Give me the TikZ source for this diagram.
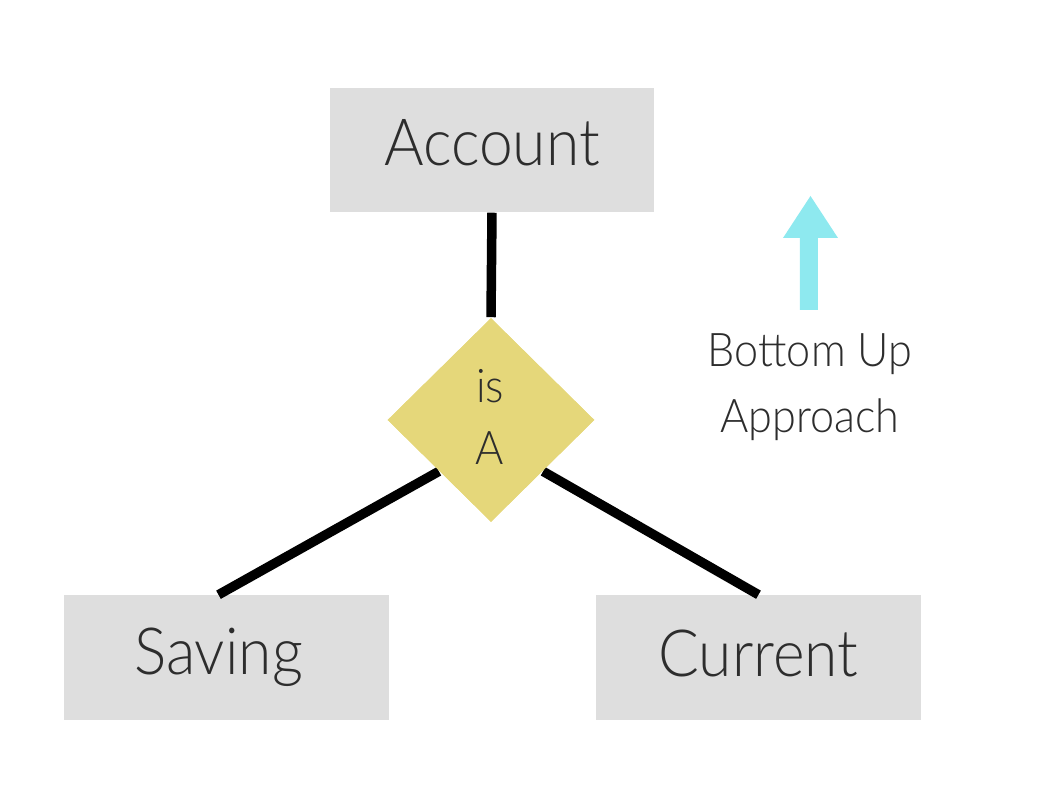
\documentclass[tikz,border=0pt]{standalone}
\usepackage{fontspec}
\setmainfont{Lato}[UprightFont={* Light}, FakeStretch=0.93]
\usetikzlibrary{shapes.geometric}
\definecolor{boxgray}{RGB}{222,222,222}
\definecolor{rhomb}{RGB}{229,215,122}
\definecolor{arrowcyan}{RGB}{142,233,239}
\definecolor{txt}{RGB}{45,45,45}
\tikzset{
  entity/.style={fill=boxgray, minimum width=3.24cm, minimum height=1.24cm, inner sep=0pt, text=txt, font=\fontsize{18.5}{20}\selectfont},
  relation/.style={diamond, fill=rhomb, minimum width=2.07cm, minimum height=2.04cm, inner sep=0pt},
  link/.style={line width=2.7pt, black},
  smalltxt/.style={text=txt, inner sep=0pt, font=\fontsize{13.2}{15}\selectfont},
}
\begin{document}
\begin{tikzpicture}[x=0.01cm, y=-0.01cm]
\useasboundingbox (0,0) rectangle (1044,786);
\node[entity] (account) at (492,150) {\raisebox{4.5pt}{Account}};
\node[entity] (saving) at (226.5,657.5) {\hspace*{-0.16cm}Saving};
\node[entity] (current) at (758.5,657.5) {\raisebox{2.5pt}{Current}};
\node[relation] (isa) at (491,420) {};
\draw[link] (account.south) -- (isa.north);
\draw[link] (isa.south west) -- ([xshift=-0.08cm]saving.north);
\draw[link] (isa.south east) -- (current.north);
\node[relation] at (isa.center) {};
\node[smalltxt] (is) at (490,386) {is};
\node[smalltxt] (a) at (490,448) {A};
\fill[arrowcyan] (800,310) -- (800,238) -- (783,238) -- (810.5,196) -- (838,238) -- (818,238) -- (818,310) -- cycle;
\node[smalltxt] (bu) at (810,354) {Bottom Up};
\node[smalltxt] (ap) at (810,420) {Approach};
\end{tikzpicture}
\end{document}
